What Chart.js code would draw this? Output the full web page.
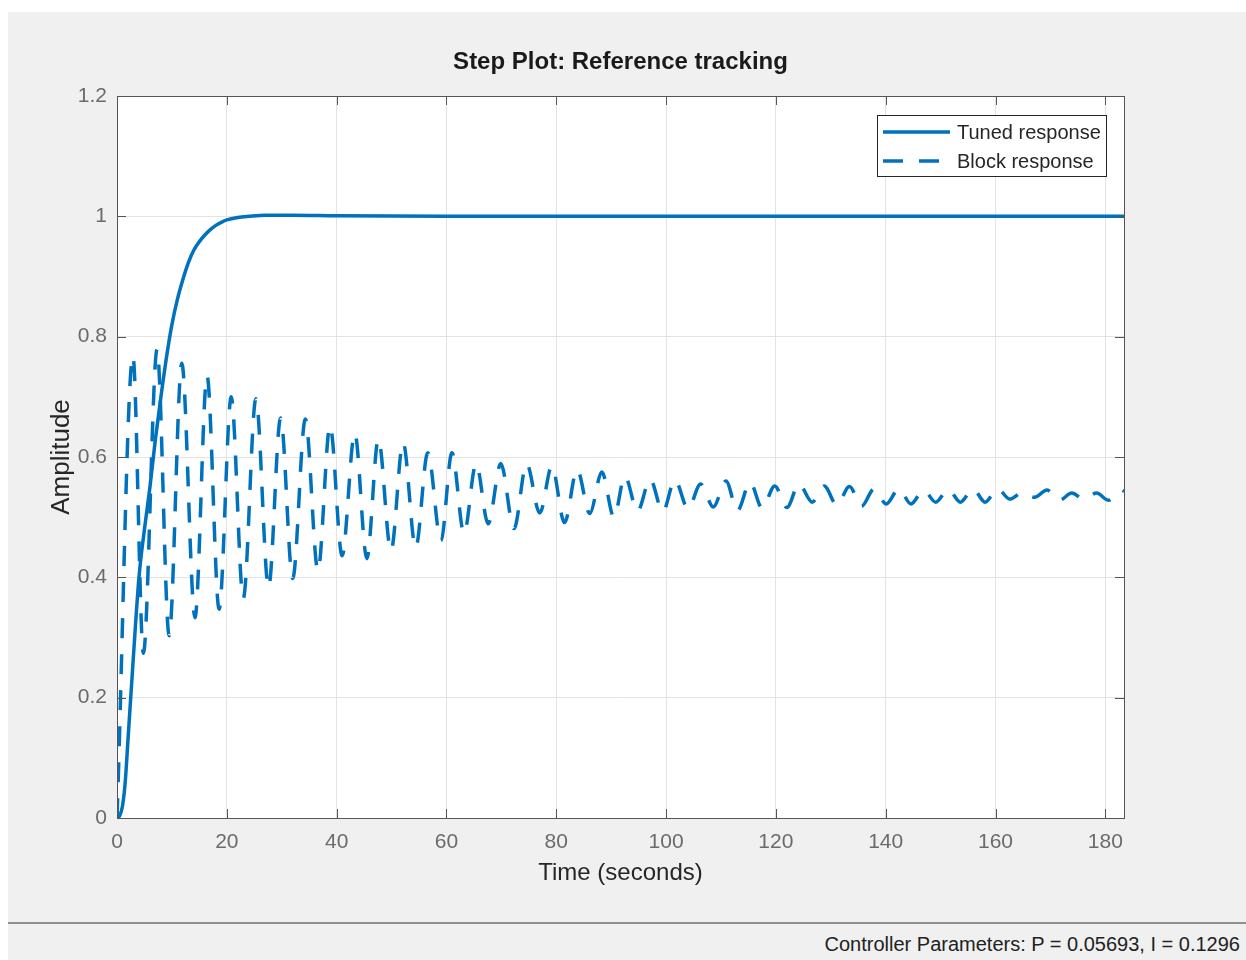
<!DOCTYPE html>
<html>
<head>
<meta charset="utf-8">
<title>Step Plot: Reference tracking</title>
<script src="https://cdn.jsdelivr.net/npm/chart.js@4.4.1/dist/chart.umd.min.js"></script>
<style>
  html, body { margin: 0; padding: 0; background: #fff; }
  body { width: 1246px; height: 960px; position: relative; overflow: hidden; font-family: "Liberation Sans", Arial, sans-serif; }
  #panel { position: absolute; left: 8px; top: 12px; width: 1238px; height: 910px; background: #f0f0f0; }
  #status { position: absolute; left: 8px; top: 922px; width: 1238px; height: 38px; background: #f0f0f0; border-top: 2px solid #8f8f8f; box-sizing: border-box; }
  #status span { position: absolute; right: 6px; top: 10px; font-size: 20px; line-height: 20px; color: #222; white-space: nowrap; }
  #wrap { position: absolute; left: 0; top: 0; width: 1246px; height: 922px; }
</style>
</head>
<body>
<div id="panel"></div>
<div id="wrap"><canvas id="stepChart" width="1246" height="922"></canvas></div>
<div id="status"><span>Controller Parameters: P = 0.05693, I = 0.1296</span></div>
<script>
// step responses, time in seconds
const tunedTime = [0, 0.5, 1, 1.5, 2, 2.5, 3, 4, 5, 6, 7, 8, 9, 10, 11, 12, 13, 14, 15, 16, 17, 18, 19, 20, 22, 24, 27, 32, 40, 60, 100, 140, 183.4];
const tunedAmp = [0, 0.004, 0.02, 0.06, 0.13, 0.2, 0.27, 0.4, 0.48, 0.55, 0.63, 0.7, 0.765, 0.82, 0.862, 0.895, 0.923, 0.944, 0.958, 0.969, 0.978, 0.985, 0.99, 0.994, 0.998, 1.0, 1.002, 1.002, 1.001, 1.0, 1.0, 1.0, 1.0];

const blockTime = [0, 2.9, 4.8, 7.3, 9.5, 11.8, 14.2, 16.4, 18.6, 20.8, 23.0, 25.3, 27.6, 29.8, 32.0, 34.3, 36.6, 38.8, 41.0, 43.3,
  45.5, 47.6, 49.9, 52.1, 54.4, 56.6, 59.0, 61.0, 63.2, 65.4, 67.6, 69.9, 72.3, 74.6, 77.0, 79.2, 81.5, 83.8, 86.1, 88.3,
  90.5, 92.5, 94.8, 97.1, 99.4, 101.6, 104.0, 106.3, 108.6, 110.9, 113.0, 115.3, 117.5, 119.8, 122.0, 124.2, 126.6, 128.8, 131.1, 133.4,
  135.6, 137.9, 140.1, 142.4, 144.6, 146.9, 149.1, 151.4, 153.6, 155.9, 158.1, 160.4, 162.6, 164.9, 167.1, 169.4, 171.6, 173.9, 176.1, 178.4,
  180.6, 182.9, 183.4];
const blockAmp = [0, 0.768, 0.274, 0.779, 0.303, 0.756, 0.333, 0.735, 0.347, 0.700, 0.365, 0.697, 0.383, 0.665, 0.398, 0.663, 0.411, 0.652, 0.436, 0.640,
  0.431, 0.630, 0.444, 0.624, 0.449, 0.607, 0.461, 0.607, 0.473, 0.589, 0.489, 0.589, 0.481, 0.589, 0.507, 0.585, 0.491, 0.579, 0.506, 0.575,
  0.500, 0.568, 0.510, 0.563, 0.509, 0.562, 0.514, 0.555, 0.517, 0.560, 0.511, 0.558, 0.515, 0.552, 0.516, 0.555, 0.525, 0.552, 0.520, 0.551,
  0.518, 0.547, 0.522, 0.547, 0.522, 0.545, 0.525, 0.546, 0.525, 0.547, 0.525, 0.547, 0.530, 0.541, 0.533, 0.545, 0.528, 0.540, 0.530, 0.540,
  0.528, 0.545, 0.543];

const seriesNames = ['Tuned response', 'Block response'];
const plotTitle = 'Step Plot: Reference tracking';
const xTicksStep = 20;
const xMax = 183.4;
const yTicksStep = 0.2;
const yMax = 1.2;

const FONT = '"Liberation Sans", Arial, sans-serif';
const BLUE = '#0072bd';
const DASH = [20, 16];

const toPoints = (xs, ys) => xs.map((x, i) => ({ x: x, y: ys[i] }));

// white axes box, title over the axes, inner tick marks, frame and the boxed legend
const axesBox = {
  id: 'axesBox',
  beforeDraw(chart) {
    const { ctx, chartArea: a } = chart;
    ctx.save();
    ctx.fillStyle = '#fff';
    ctx.fillRect(a.left, a.top, a.right - a.left, a.bottom - a.top);
    ctx.fillStyle = '#1a1a1a';
    ctx.font = 'bold 24px ' + FONT;
    ctx.textAlign = 'center';
    ctx.textBaseline = 'middle';
    ctx.fillText(plotTitle, (a.left + a.right) / 2, 62);
    ctx.restore();
  },
  afterDatasetsDraw(chart) {
    const { ctx, chartArea: a, scales } = chart;
    const len = 9;
    ctx.save();
    ctx.strokeStyle = '#555';
    ctx.lineWidth = 1;
    ctx.beginPath();
    scales.x.ticks.forEach(t => {
      const px = Math.round(scales.x.getPixelForValue(t.value)) + 0.5;
      ctx.moveTo(px, a.bottom); ctx.lineTo(px, a.bottom - len);
      ctx.moveTo(px, a.top); ctx.lineTo(px, a.top + len);
    });
    scales.y.ticks.forEach(t => {
      const py = Math.round(scales.y.getPixelForValue(t.value)) + 0.5;
      ctx.moveTo(a.left, py); ctx.lineTo(a.left + len, py);
      ctx.moveTo(a.right, py); ctx.lineTo(a.right - len, py);
    });
    ctx.stroke();
    ctx.strokeRect(Math.round(a.left) + 0.5, Math.round(a.top) + 0.5, Math.round(a.right - a.left), Math.round(a.bottom - a.top));

    // legend, upper right corner
    const bx = 877.5, by = 115.5, bw = 229, bh = 61;
    ctx.fillStyle = '#fff';
    ctx.fillRect(bx, by, bw, bh);
    ctx.strokeStyle = '#262626';
    ctx.strokeRect(bx, by, bw, bh);
    const rows = [132, 161];
    ctx.lineWidth = 3.5;
    ctx.strokeStyle = BLUE;
    rows.forEach((y, i) => {
      ctx.setLineDash(i === 0 ? [] : DASH);
      ctx.beginPath();
      ctx.moveTo(883, y); ctx.lineTo(950, y);
      ctx.stroke();
    });
    ctx.setLineDash([]);
    ctx.fillStyle = '#262626';
    ctx.font = '20px ' + FONT;
    ctx.textBaseline = 'middle';
    ctx.textAlign = 'left';
    rows.forEach((y, i) => ctx.fillText(seriesNames[i], 957, y + 1));
    ctx.restore();
  }
};

new Chart(document.getElementById('stepChart'), {
  type: 'line',
  data: {
    datasets: [
      {
        label: seriesNames[0],
        data: toPoints(tunedTime, tunedAmp),
        borderColor: BLUE,
        borderWidth: 3.5,
        pointRadius: 0,
        cubicInterpolationMode: 'monotone'
      },
      {
        label: seriesNames[1],
        data: toPoints(blockTime, blockAmp),
        borderColor: BLUE,
        borderWidth: 3.5,
        borderDash: DASH,
        pointRadius: 0,
        cubicInterpolationMode: 'monotone'
      }
    ]
  },
  options: {
    responsive: false,
    animation: false,
    events: [],
    layout: { padding: { left: 0, right: 122, top: 96, bottom: 0 } },
    plugins: {
      legend: { display: false },
      tooltip: { enabled: false },
      title: { display: false }
    },
    scales: {
      x: {
        type: 'linear',
        min: 0,
        max: xMax,
        afterFit(scale) { scale.height = 104; },
        ticks: {
          stepSize: xTicksStep,
          includeBounds: false,
          autoSkip: false,
          maxRotation: 0,
          padding: 12,
          color: '#6b6b6b',
          font: { family: FONT, size: 21 }
        },
        grid: { color: '#e3e3e3', drawTicks: false },
        border: { display: false },
        title: {
          display: true,
          text: 'Time (seconds)',
          color: '#262626',
          font: { family: FONT, size: 24 },
          padding: { top: 0, bottom: 34.6 }
        }
      },
      y: {
        min: 0,
        max: yMax,
        afterFit(scale) { scale.width = 117; },
        ticks: {
          stepSize: yTicksStep,
          padding: 10,
          color: '#6b6b6b',
          font: { family: FONT, size: 21 },
          callback: v => String(+v.toFixed(2))
        },
        grid: { color: '#e3e3e3', drawTicks: false },
        border: { display: false },
        title: {
          display: true,
          text: 'Amplitude',
          color: '#262626',
          font: { family: FONT, size: 26 },
          padding: { top: 46.4, bottom: 0 }
        }
      }
    }
  },
  plugins: [axesBox]
});
</script>
</body>
</html>
